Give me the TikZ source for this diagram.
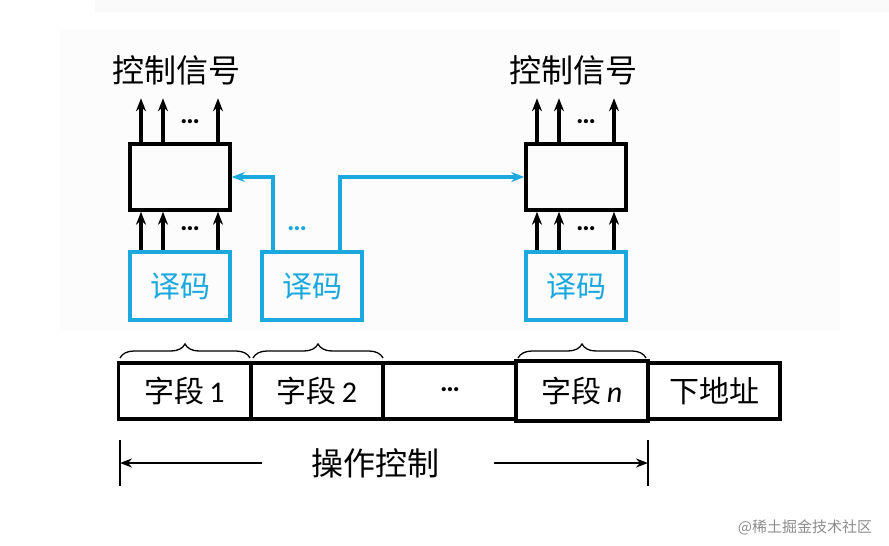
\documentclass[tikz,border=0pt]{standalone}
\usepackage{fontspec}
\setmainfont{Carlito}
\newfontfamily\cjk{Noto Sans CJK SC}
\usetikzlibrary{arrows.meta,decorations.pathreplacing}
\definecolor{cblue}{RGB}{26,168,222}
\tikzset{
  bbox/.style={draw=black,line width=3.5pt,minimum width=100pt,minimum height=66pt,inner sep=0pt},
  decbox/.style={draw=cblue,line width=3.5pt,minimum width=100pt,minimum height=68pt,inner sep=0pt,text=cblue,font=\cjk\fontsize{30}{32}\selectfont},
  fieldbox/.style={draw=black,line width=3.5pt,minimum width=132pt,minimum height=56pt,inner sep=0pt,font=\cjk\fontsize{30}{32}\selectfont},
  arr/.style={line width=3.2pt,-{Stealth[length=13pt,width=10pt]}},
  barr/.style={line width=3.2pt,draw=cblue,-{Stealth[length=13pt,width=10pt]}},
  lbl/.style={font=\cjk\fontsize{32}{34}\selectfont,inner sep=0pt},
  dots/.style={font=\bfseries\fontsize{28}{30}\selectfont,inner sep=0pt},
  brc/.style={decorate,decoration={brace,amplitude=14pt,aspect=0.5},line width=1.3pt}
}
\begin{document}
\begin{tikzpicture}[x=1pt,y=-1pt]
\useasboundingbox (0,0) rectangle (889,546);
\fill[black!2] (95,0) rectangle (889,12);
\fill[black!1] (60,30) rectangle (840,330);
% top labels
\node[lbl] (sig1) at (176,70) {控制信号};
\node[lbl] (sig2) at (573,70) {控制信号};
% control boxes
\node[bbox] (ctl1) at (180,177) {};
\node[bbox] (ctl2) at (576,177) {};
% decoders
\node[decbox] (dec1) at (180,286) {译码};
\node[decbox] (dec2) at (312,286) {译码};
\node[decbox] (dec3) at (576,286) {译码};
% output arrows
\foreach \b in {ctl1,ctl2}{
  \foreach \s in {-39,-17,38}{
    \draw[arr] ([xshift=\s pt]\b.north) -- ++(0,-44);
  }
}
\node[dots] (od1) at (190,122) {…};
\node[dots] (od2) at (586,122) {…};
% decoder to control arrows
\foreach \d/\b in {dec1/ctl1,dec3/ctl2}{
  \foreach \s in {-39,-17,38}{
    \draw[arr] ([xshift=\s pt]\d.north) -- ([xshift=\s pt]\b.south);
  }
}
\node[dots] (id1) at (190,229) {…};
\node[dots] (id2) at (586,229) {…};
% blue connectors
\draw[barr] ([xshift=-39pt]dec2.north) |- (ctl1.east);
\draw[barr] ([xshift=28pt]dec2.north) |- (ctl2.west);
\node[dots,text=cblue] (bd) at (297,229) {…};
% fields
\node[fieldbox] (f1) at (184.5,391) {字段\,\textrm{1}};
\node[fieldbox] (f2) at (317,391) {字段\,\textrm{2}};
\node[fieldbox] (f3) at (449.5,391) {};
\node[dots] (fd) at (450,390) {…};
\node[fieldbox,minimum height=60pt] (fn) at (582,391) {字段\,\textit{\fontspec{Carlito}n}};
\node[fieldbox] (fa) at (714,391) {下地址};
% braces
\draw[brc] (120,358) -- (250,358);
\draw[brc] (253,358) -- (383,358);
\draw[brc] (518,358) -- (646,358);
% bottom
\coordinate (l1) at (120,440);
\coordinate (l2) at (120,486);
\coordinate (r1) at (648,440);
\coordinate (r2) at (648,486);
\draw[line width=2.5pt] (l1) -- (l2);
\draw[line width=2.5pt] (r1) -- (r2);
\node[lbl] (op) at (375,463) {操作控制};
\coordinate (ra) at (120,463);
\coordinate (rb) at (648,463);
\draw[line width=2.5pt,-{Stealth[length=12pt,width=9pt]}] (262,463) -- (ra);
\draw[line width=2.5pt,-{Stealth[length=12pt,width=9pt]}] (494,463) -- (rb);
% watermark
\node[font=\cjk\fontsize{15}{16}\selectfont,text=black!45,inner sep=0pt] (wm) at (805,527) {@稀土掘金技术社区};
\end{tikzpicture}
\end{document}
